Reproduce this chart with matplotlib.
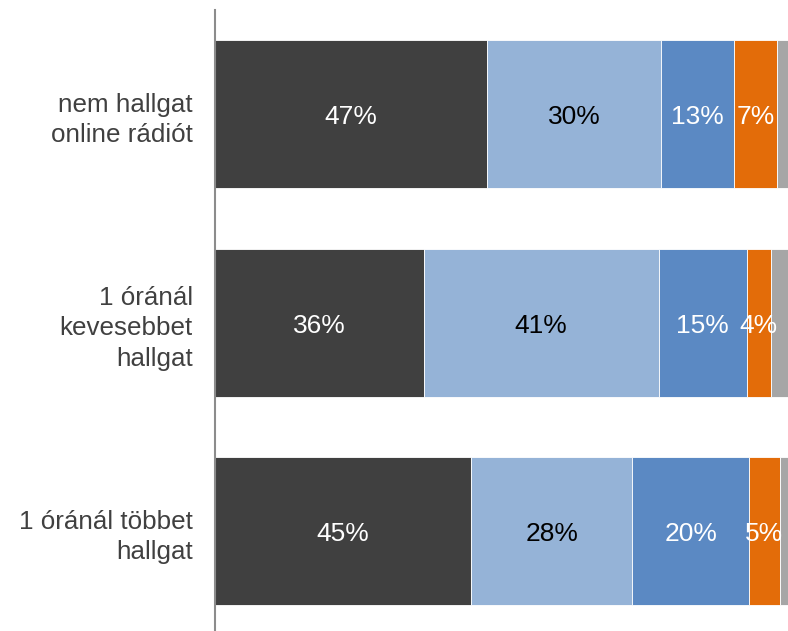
import matplotlib.pyplot as plt
import numpy as np

plt.rcParams['font.family'] = ['Liberation Sans', 'DejaVu Sans']

categories = ["nem hallgat\nonline rádiót",
              "1 óránál\nkevesebbet\nhallgat",
              "1 óránál többet\nhallgat"]

# share of answers per group (%), left to right
seg_dark = [47.4, 36.4, 44.7]
seg_light = [30.5, 41.0, 28.1]
seg_blue = [12.7, 15.4, 20.4]
seg_orange = [7.4, 4.2, 5.4]
seg_gray = [2.0, 3.0, 1.4]

series = [seg_dark, seg_light, seg_blue, seg_orange, seg_gray]
colors = ["#404040", "#95B3D7", "#5B89C3", "#E36C09", "#A6A6A6"]
text_colors = ["white", "black", "white", "white", None]

fig = plt.figure(figsize=(7.88, 6.31), dpi=100)
ax = fig.add_axes([215 / 788, 0.0, 573 / 788, 621 / 631])

y = np.arange(len(categories))
left = np.zeros(len(categories))
for vals, col, tcol in zip(series, colors, text_colors):
    vals = np.asarray(vals)
    ax.barh(y, vals, left=left, height=0.71, color=col,
            edgecolor="white", linewidth=0.6)
    if tcol is not None:
        for i, v in enumerate(vals):
            # nudge down a bit so the digits sit centred in the bar
            ax.text(left[i] + v / 2, y[i] + 0.015, f"{v:.0f}%", ha="center",
                    va="center", color=tcol, fontsize=19)
    left += vals

ax.set_xlim(0, 100)
ax.set_ylim(-0.5 + 621 / 208.5, -0.5)
ax.set_yticks(y)
ax.set_yticklabels(categories, fontsize=18.7, color="#404040",
                   linespacing=1.33)
ax.tick_params(axis="y", length=0, pad=16)
ax.set_xticks([])

for side in ["top", "right", "bottom"]:
    ax.spines[side].set_visible(False)
ax.spines["left"].set_color("#8C8C8C")
ax.spines["left"].set_linewidth(1.5)

fig.savefig("out.png", dpi=100)
